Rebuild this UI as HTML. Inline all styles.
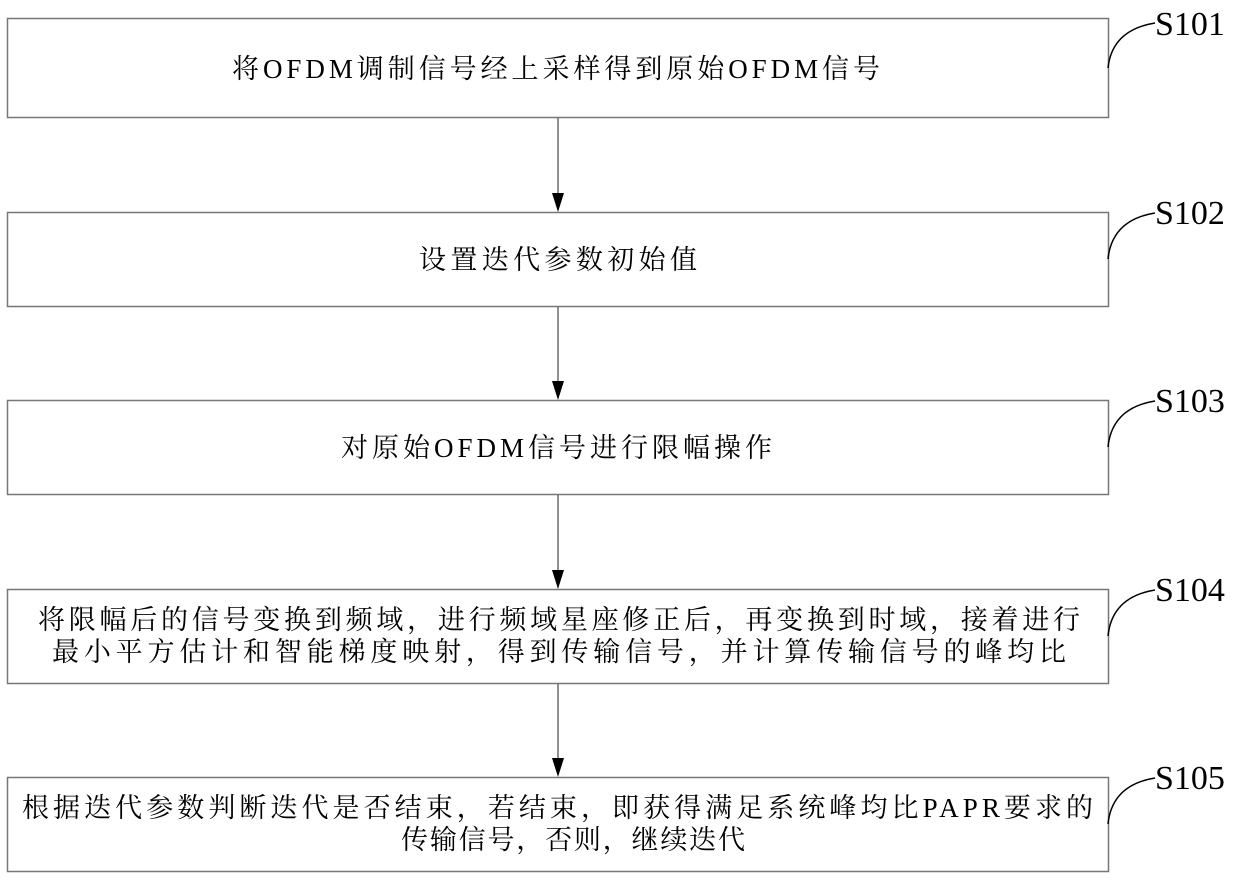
<!DOCTYPE html>
<html><head><meta charset="utf-8"><style>
body{margin:0;background:#fff;width:1240px;height:881px;overflow:hidden}
svg{position:absolute;left:0;top:0}
text{font-family:"Liberation Serif","Noto Serif CJK SC","Noto Sans CJK SC",serif;fill:#000}
.t{font-size:27px}
.l{font-size:34px}
</style></head><body>
<svg width="1240" height="881" xmlns="http://www.w3.org/2000/svg">
<g fill="none" stroke="#777" stroke-width="1.5">
<rect x="7.5" y="18.5" width="1101" height="99"/>
<rect x="7.5" y="212.5" width="1101" height="94"/>
<rect x="7.5" y="400.5" width="1101" height="94"/>
<rect x="7.5" y="589.5" width="1101" height="94"/>
<rect x="7.5" y="777.5" width="1101" height="94"/>
</g>
<g stroke="#555" stroke-width="1.3">
<line x1="558" y1="118" x2="558" y2="196"/>
<line x1="558" y1="307" x2="558" y2="384"/>
<line x1="558" y1="495" x2="558" y2="573"/>
<line x1="558" y1="684" x2="558" y2="761"/>
</g>
<g fill="#000">
<polygon points="552,193 564,193 558,212"/>
<polygon points="552,381 564,381 558,400"/>
<polygon points="552,570 564,570 558,589"/>
<polygon points="552,758 564,758 558,777"/>
</g>
<g fill="none" stroke="#000" stroke-width="1.5">
<path d="M1108,68 Q1112,30 1155,23"/>
<path d="M1108,259 Q1112,220 1155,213"/>
<path d="M1108,447 Q1112,408 1155,401"/>
<path d="M1108,636 Q1112,597 1155,590"/>
<path d="M1108,824 Q1112,785 1155,778"/>
</g>
<text class="l" x="1155" y="35">S101</text>
<text class="l" x="1155" y="224">S102</text>
<text class="l" x="1155" y="412">S103</text>
<text class="l" x="1155" y="601">S104</text>
<text class="l" x="1155" y="789">S105</text>
<g class="t">
<text x="232" y="78" textLength="648" lengthAdjust="spacing">将OFDM调制信号经上采样得到原始OFDM信号</text>
<text x="419" y="269" textLength="278" lengthAdjust="spacing">设置迭代参数初始值</text>
<text x="341" y="457" textLength="431" lengthAdjust="spacing">对原始OFDM信号进行限幅操作</text>
<text x="38" y="629" textLength="1042" lengthAdjust="spacing">将限幅后的信号变换到频域，进行频域星座修正后，再变换到时域，接着进行</text>
<text x="52" y="661" textLength="1014" lengthAdjust="spacing">最小平方估计和智能梯度映射，得到传输信号，并计算传输信号的峰均比</text>
<text x="22" y="817" textLength="1071" lengthAdjust="spacing">根据迭代参数判断迭代是否结束，若结束，即获得满足系统峰均比PAPR要求的</text>
<text x="401" y="849" textLength="344" lengthAdjust="spacing">传输信号，否则，继续迭代</text>
</g>
</svg>
</body></html>
